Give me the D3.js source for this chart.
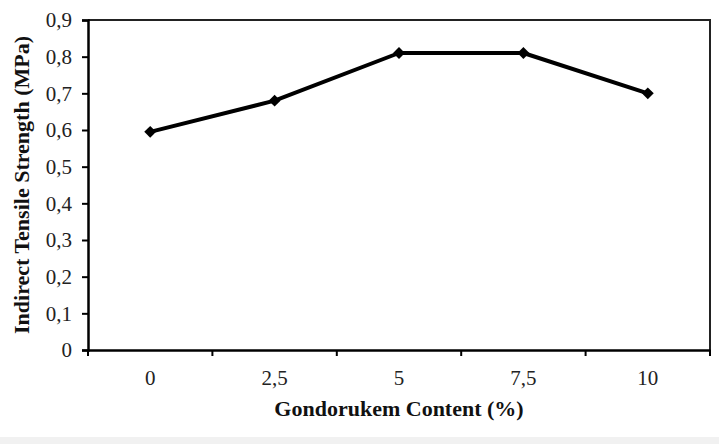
<!DOCTYPE html>
<html>
<head>
<meta charset="utf-8">
<script src="https://cdn.jsdelivr.net/npm/d3@7"></script>
<style>
  body { margin: 0; background: #fff; }
  svg { display: block; font-family: "Liberation Serif", "DejaVu Serif", serif; }
</style>
</head>
<body>
<div id="chart"></div>
<script>
// data
const categories = ["0", "2,5", "5", "7,5", "10"];
const strength = [0.595, 0.68, 0.81, 0.81, 0.70];
const yTicks = [0, 0.1, 0.2, 0.3, 0.4, 0.5, 0.6, 0.7, 0.8, 0.9];

const width = 719, height = 444;
const margin = { top: 20, right: 9, bottom: 94, left: 88 };

const svg = d3.select("#chart").append("svg")
  .attr("width", width)
  .attr("height", height);

// faint strip along the bottom of the scan
svg.append("rect")
  .attr("x", 0).attr("y", 437)
  .attr("width", width).attr("height", 7)
  .attr("fill", "#f1f1f1");

const x = d3.scaleBand()
  .domain(categories)
  .range([margin.left, width - margin.right]);

const y = d3.scaleLinear()
  .domain([0, 0.9])
  .range([height - margin.bottom, margin.top]);

const fmt = d => d === 0 ? "0" : d3.format(".1f")(d).replace(".", ",");

// frame: top and right edges
svg.append("path")
  .attr("d", `M${margin.left},${margin.top}H${width - margin.right}V${height - margin.bottom}`)
  .attr("fill", "none")
  .attr("stroke", "#222")
  .attr("stroke-width", 2);

// y axis
const yAxis = svg.append("g")
  .attr("transform", `translate(${margin.left},0)`)
  .call(d3.axisLeft(y).tickValues(yTicks).tickFormat(fmt).tickSize(6).tickPadding(10));

// x axis, ticks sit on band edges
const edges = categories.map(c => x(c)).concat([x.range()[1]]);
const xAxis = svg.append("g")
  .attr("transform", `translate(0,${height - margin.bottom})`)
  .call(d3.axisBottom(x).tickSize(0).tickPadding(20));

xAxis.selectAll(".edge")
  .data(edges)
  .enter().append("line")
  .attr("x1", d => d).attr("x2", d => d)
  .attr("y1", 0).attr("y2", 6)
  .attr("stroke", "#000").attr("stroke-width", 2);

[yAxis, xAxis].forEach(g => {
  g.select(".domain").attr("stroke", "#000").attr("stroke-width", 2.5);
  g.selectAll(".tick line").attr("stroke", "#000").attr("stroke-width", 2);
  g.selectAll("text")
    .attr("font-family", "Liberation Serif, serif")
    .attr("font-size", 21)
    .attr("fill", "#222");
});

// the line
const line = d3.line()
  .x((d, i) => x(categories[i]) + x.bandwidth() / 2)
  .y(d => y(d));

svg.append("path")
  .datum(strength)
  .attr("d", line)
  .attr("fill", "none")
  .attr("stroke", "#000")
  .attr("stroke-width", 4)
  .attr("stroke-linejoin", "round");

svg.selectAll(".pt")
  .data(strength)
  .enter().append("path")
  .attr("class", "pt")
  .attr("d", d3.symbol(d3.symbolDiamond2, 90))
  .attr("transform", (d, i) => `translate(${x(categories[i]) + x.bandwidth() / 2},${y(d)})`)
  .attr("fill", "#000");

// axis titles
svg.append("text")
  .attr("x", (margin.left + width - margin.right) / 2)
  .attr("y", 416)
  .attr("text-anchor", "middle")
  .attr("font-size", 22)
  .attr("font-weight", "bold")
  .attr("fill", "#111")
  .text("Gondorukem Content (%)");

svg.append("text")
  .attr("transform", `translate(29,${(margin.top + height - margin.bottom) / 2}) rotate(-90)`)
  .attr("text-anchor", "middle")
  .attr("font-size", 22)
  .attr("font-weight", "bold")
  .attr("fill", "#111")
  .text("Indirect Tensile Strength (MPa)");
</script>
</body>
</html>
